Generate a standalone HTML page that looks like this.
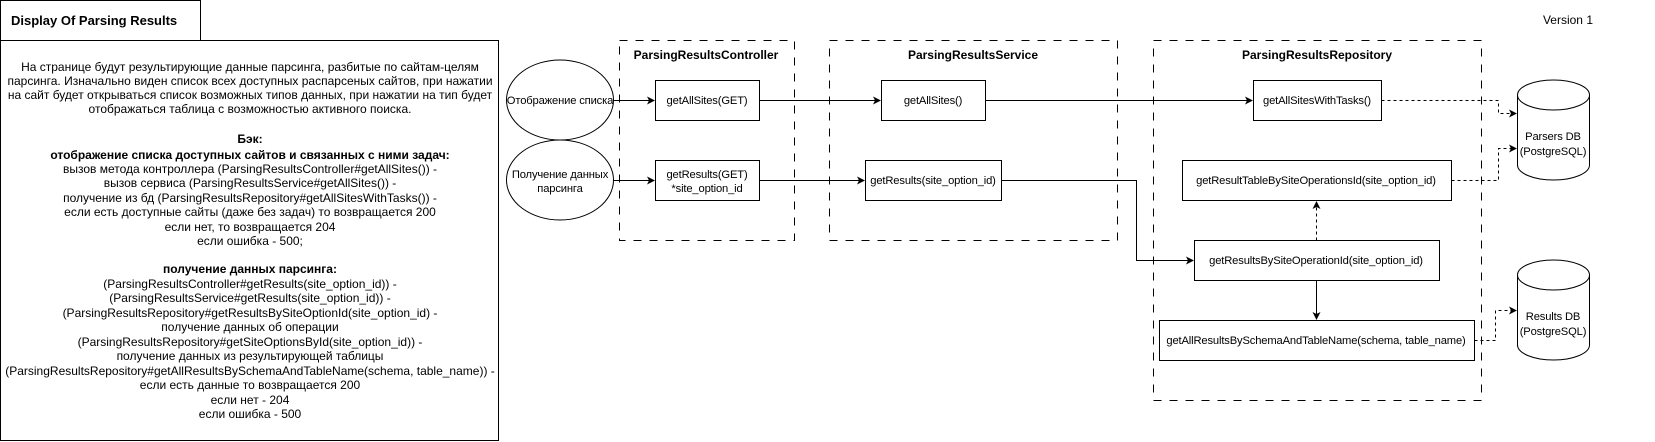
<!DOCTYPE html>
<html><head><meta charset="utf-8"><style>
html,body{margin:0;padding:0;background:#fff;}
svg{display:block;font-family:"Liberation Sans","DejaVu Sans",sans-serif;}
text{font-size:12px;fill:#000;}
.d text{font-size:11.2px;letter-spacing:-0.15px;}
</style></head><body>
<svg width="1655" height="442" viewBox="0 0 1655 442" xmlns="http://www.w3.org/2000/svg">
<defs>
<marker id="a" markerWidth="8" markerHeight="8" refX="7" refY="4" orient="auto" markerUnits="userSpaceOnUse"><path d="M0,0 L8,4 L0,8 L2,4 Z" fill="#000"/></marker>
</defs>
<rect x="0.5" y="0.5" width="200" height="40" fill="#fff" stroke="#000"/>
<text x="11" y="25" style="font-size:13px;font-weight:bold">Display Of Parsing Results</text>
<rect x="0.5" y="40.5" width="498" height="400" fill="#fff" stroke="#000"/>
<g text-anchor="middle">
<text x="250" y="71">На странице будут результирующие данные парсинга, разбитые по сайтам-целям</text>
<text x="250" y="85">парсинга. Изначально виден список всех доступных распарсеных сайтов, при нажатии</text>
<text x="250" y="99">на сайт будет открываться список возможных типов данных, при нажатии на тип будет</text>
<text x="250" y="113">отображаться таблица с возможностью активного поиска.</text>
<text x="250" y="143" font-weight="bold">Бэк:</text>
<text x="250" y="159" font-weight="bold">отображение списка доступных сайтов и связанных с ними задач:</text>
<text x="250" y="173">вызов метода контроллера (ParsingResultsController#getAllSites()) -</text>
<text x="250" y="187">вызов сервиса (ParsingResultsService#getAllSites()) -</text>
<text x="250" y="202">получение из бд (ParsingResultsRepository#getAllSitesWithTasks()) -</text>
<text x="250" y="216">если есть доступные сайты (даже без задач) то возвращается 200</text>
<text x="250" y="231">если нет, то возвращается 204</text>
<text x="250" y="245">если ошибка - 500;</text>
<text x="250" y="273" font-weight="bold">получение данных парсинга:</text>
<text x="250" y="288">(ParsingResultsController#getResults(site_option_id)) -</text>
<text x="250" y="302">(ParsingResultsService#getResults(site_option_id)) -</text>
<text x="250" y="317">(ParsingResultsRepository#getResultsBySiteOptionId(site_option_id) -</text>
<text x="250" y="331">получение данных об операции</text>
<text x="250" y="346">(ParsingResultsRepository#getSiteOptionsById(site_option_id)) -</text>
<text x="250" y="360">получение данных из результирующей таблицы</text>
<text x="250" y="375">(ParsingResultsRepository#getAllResultsBySchemaAndTableName(schema, table_name)) -</text>
<text x="250" y="389">если есть данные то возвращается 200</text>
<text x="250" y="404">если нет - 204</text>
<text x="250" y="418">если ошибка - 500</text>
</g>
<text x="1593" y="24" text-anchor="end">Version 1</text>
<g fill="none" stroke="#000" stroke-dasharray="8,8">
<rect x="619.5" y="40.5" width="175" height="200"/>
<rect x="829.5" y="40.5" width="288" height="200"/>
<rect x="1153.5" y="40.5" width="328" height="360"/>
</g>
<g text-anchor="middle">
<text x="706" y="59" style="font-weight:bold">ParsingResultsController</text>
<text x="973" y="59" style="font-weight:bold">ParsingResultsService</text>
<text x="1317" y="59" style="font-weight:bold">ParsingResultsRepository</text>
</g>
<g fill="#fff" stroke="#000">
<ellipse cx="560" cy="100" rx="53.5" ry="40"/>
<ellipse cx="560" cy="180" rx="53.5" ry="40"/>
</g>
<g class="d" text-anchor="middle">
<text x="560" y="104">Отображение списка</text>
<text x="560" y="178">Получение данных</text>
<text x="560" y="192">парсинга</text>
</g>
<g fill="#fff" stroke="#000">
<rect x="655.5" y="80.5" width="104" height="40"/>
<rect x="655.5" y="160.5" width="104" height="40"/>
<rect x="881.5" y="80.5" width="104" height="40"/>
<rect x="865.5" y="160.5" width="136" height="40"/>
<rect x="1253.5" y="80.5" width="128" height="40"/>
<rect x="1182.5" y="160.5" width="269" height="40"/>
<rect x="1194.5" y="240.5" width="245" height="40"/>
<rect x="1159.5" y="320.5" width="315" height="40"/>
</g>
<g class="d" text-anchor="middle">
<text x="707" y="104">getAllSites(GET)</text>
<text x="707" y="178">getResults(GET)</text>
<text x="707" y="192">*site_option_id</text>
<text x="933" y="104">getAllSites()</text>
<text x="933" y="184">getResults(site_option_id)</text>
<text x="1317" y="104">getAllSitesWithTasks()</text>
<text x="1316" y="184">getResultTableBySiteOperationsId(site_option_id)</text>
<text x="1316" y="264">getResultsBySiteOperationId(site_option_id)</text>
<text x="1316" y="344">getAllResultsBySchemaAndTableName(schema, table_name)</text>
</g>
<g fill="#fff" stroke="#000">
<path d="M1517.5,95 L1517.5,165 A36,15 0 0 0 1589.5,165 L1589.5,95 A36,15 0 0 0 1517.5,95 Z"/>
<path d="M1517.5,95 A36,15 0 0 0 1589.5,95"/>
<path d="M1517.5,275 L1517.5,345 A36,15 0 0 0 1589.5,345 L1589.5,275 A36,15 0 0 0 1517.5,275 Z"/>
<path d="M1517.5,275 A36,15 0 0 0 1589.5,275"/>
</g>
<g class="d" text-anchor="middle">
<text x="1553" y="140">Parsers DB</text>
<text x="1553" y="155">(PostgreSQL)</text>
<text x="1553" y="320">Results DB</text>
<text x="1553" y="335">(PostgreSQL)</text>
</g>
<g fill="none" stroke="#000" marker-end="url(#a)">
<path d="M613.5,100.5 H654"/>
<path d="M613.5,180.5 H654"/>
<path d="M759.5,100.5 H880"/>
<path d="M759.5,180.5 H864"/>
<path d="M985.5,100.5 H1252"/>
<path d="M1001.5,180.5 H1136.5 V260.5 H1193"/>
<path d="M1316.5,280.5 V319"/>
</g>
<g fill="none" stroke="#000" stroke-dasharray="3,3" marker-end="url(#a)">
<path d="M1381.5,100.5 H1498.5 V113.5 H1516"/>
<path d="M1451.5,180.5 H1498.5 V148.5 H1516"/>
<path d="M1474.5,340.5 H1495.5 V310.5 H1516"/>
<path d="M1316.5,240.5 V202"/>
</g>
</svg>
</body></html>
